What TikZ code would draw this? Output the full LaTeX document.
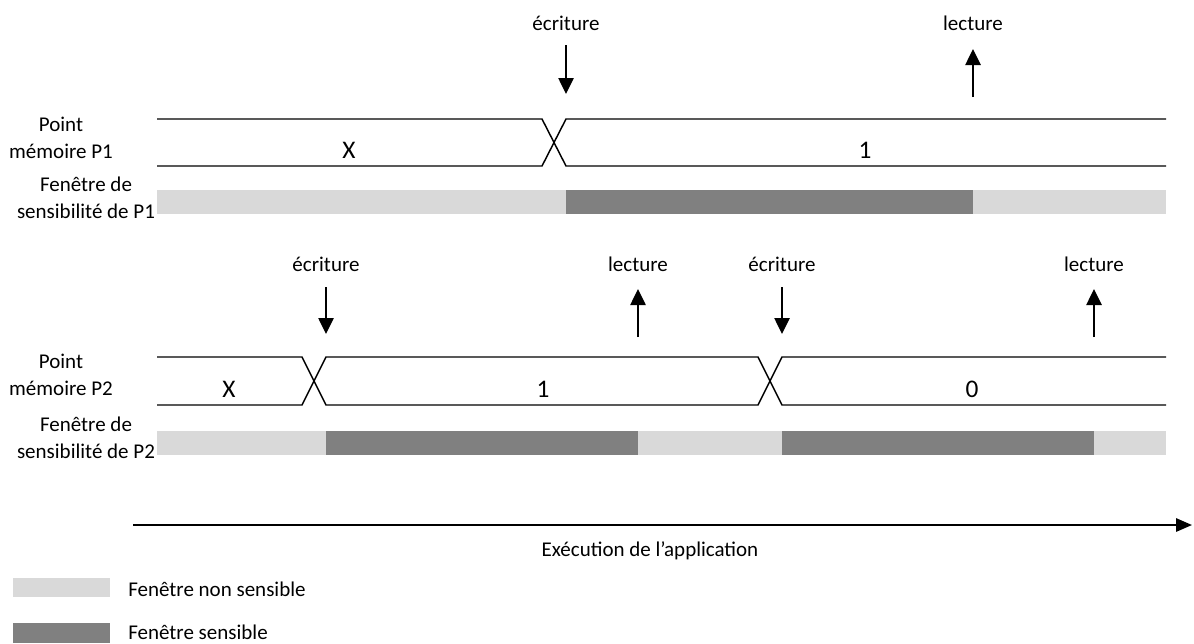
\documentclass[tikz,border=0pt]{standalone}
\usepackage{fontspec}
\setmainfont{Carlito}
\usetikzlibrary{arrows.meta}
\definecolor{lightbar}{HTML}{D9D9D9}
\definecolor{darkbar}{HTML}{808080}
\begin{document}
\begin{tikzpicture}[x=0.75pt,y=-0.75pt,
  txt/.style={inner sep=0pt,font=\fontsize{15.75}{20}\selectfont},
  lab/.style={txt,align=center},
  val/.style={inner sep=0pt,font=\fontsize{19}{22}\selectfont},
  sig/.style={line width=1.1pt},
  evt/.style={line width=1.1pt,-{Triangle[length=12pt,width=11.5pt]}},
  light/.style={fill=lightbar,draw=none},
  dark/.style={fill=darkbar,draw=none}]
\useasboundingbox (0,0) rectangle (1194,643);

% ---- P1 ----
\node[lab] (p1lab) at (61,138) {Point\\mémoire P1};
\node[lab] (w1lab) at (86,198) {Fenêtre de\\sensibilité de P1};
\draw[sig] (157,119) -- (542,119) -- (566,166) -- (1166,166);
\draw[sig] (157,166) -- (542,166) -- (566,119) -- (1166,119);
\node[val] (p1x) at (349,150) {X};
\node[val] (p1one) at (865,150) {1};
\fill[light] (157,190) rectangle (566,214);
\fill[dark] (566,190) rectangle (973,214);
\fill[light] (973,190) rectangle (1166,214);
\node[txt] (e1) at (566,23) {écriture};
\coordinate (e1a) at (566,45);
\coordinate (e1b) at (566,94);
\draw[evt] (e1a) -- (e1b);
\node[txt] (l1) at (973,23) {lecture};
\coordinate (l1a) at (973,97);
\coordinate (l1b) at (973,49);
\draw[evt] (l1a) -- (l1b);

% ---- P2 ----
\node[lab] (p2lab) at (61,375) {Point\\mémoire P2};
\node[lab] (w2lab) at (86,438) {Fenêtre de\\sensibilité de P2};
\draw[sig] (157,357) -- (302,357) -- (326,405) -- (758,405) -- (782,357) -- (1166,357);
\draw[sig] (157,405) -- (302,405) -- (326,357) -- (758,357) -- (782,405) -- (1166,405);
\node[val] (p2x) at (229,389) {X};
\node[val] (p2one) at (543,389) {1};
\node[val] (p2zero) at (972,389) {0};
\fill[light] (157,431) rectangle (326,455);
\fill[dark] (326,431) rectangle (638,455);
\fill[light] (638,431) rectangle (782,455);
\fill[dark] (782,431) rectangle (1094,455);
\fill[light] (1094,431) rectangle (1166,455);
\node[txt] (e2) at (326,264) {écriture};
\coordinate (e2a) at (326,287);
\coordinate (e2b) at (326,334);
\draw[evt] (e2a) -- (e2b);
\node[txt] (l2) at (638,264) {lecture};
\coordinate (l2a) at (638,337);
\coordinate (l2b) at (638,289);
\draw[evt] (l2a) -- (l2b);
\node[txt] (e3) at (782,264) {écriture};
\coordinate (e3a) at (782,287);
\coordinate (e3b) at (782,334);
\draw[evt] (e3a) -- (e3b);
\node[txt] (l3) at (1094,264) {lecture};
\coordinate (l3a) at (1094,337);
\coordinate (l3b) at (1094,289);
\draw[evt] (l3a) -- (l3b);

% ---- time axis ----
\coordinate (t0) at (133,525);
\coordinate (t1) at (1192,525);
\draw[line width=1.5pt,-{Triangle[length=12pt,width=10pt]}] (t0) -- (t1);
\node[txt] (tlab) at (650,551) {Exécution de l’application};

% ---- legend ----
\fill[light] (13,578) rectangle (110,597);
\node[txt,anchor=west] (leg1) at (128,589) {Fenêtre non sensible};
\fill[dark] (13,623) rectangle (110,643);
\node[txt,anchor=west] (leg2) at (128,632) {Fenêtre sensible};
\end{tikzpicture}
\end{document}
